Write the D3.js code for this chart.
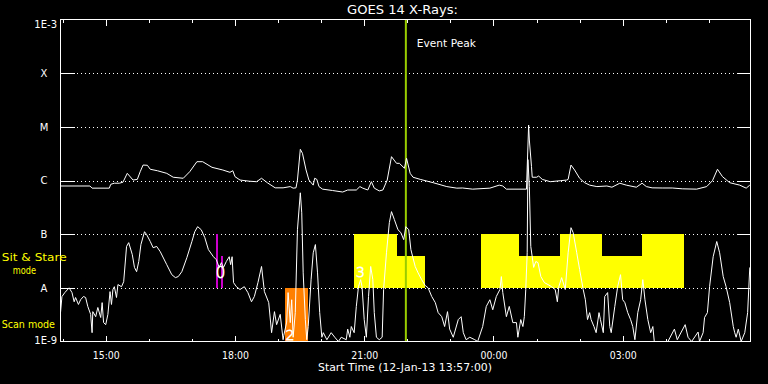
<!DOCTYPE html>
<html><head><meta charset="utf-8">
<script src="https://cdn.jsdelivr.net/npm/d3@7"></script>
<style>html,body{margin:0;padding:0;background:#000;overflow:hidden}svg{display:block}</style>
</head><body><svg id="c" width="768" height="384"></svg>
<script>
// ---------------- data ----------------
const startTime = new Date(2013, 0, 12, 13, 57);
const endTime = new Date(2013, 0, 13, 5, 58);
const titleText = "GOES 14 X-Rays:";
const xAxisTitle = "Start Time (12-Jan-13 13:57:00)";

// GOES long channel (1-8 A): minutes after start, flux W/m^2
const longMinutes = [0,41,44,68,70,75,82,87,93,101,107,111,115,121,125,135,148,157,171,180,190,198,211,226,236,240,243,250,263,273,280,288,299,310,320,324,328,330,334,337,342,346,352,354,357,360,365,379,393,400,412,417,421,428,433,437,444,449,455,461,468,472,479,482,487,491,501,519,538,552,560,574,598,611,616,621,649,652,653,656,657,663,666,671,682,696,705,707,711,716,723,730,737,747,761,768,779,788,802,810,816,824,838,852,866,886,900,908,915,922,932,946,955,960];
const longFlux = [7.9e-7,7.9e-7,7.2e-7,7.2e-7,8.5e-7,8.9e-7,8.9e-7,9.3e-7,1.36e-6,1.02e-6,1.05e-6,1.46e-6,1.94e-6,1.92e-6,1.62e-6,1.52e-6,1.36e-6,1.15e-6,1.10e-6,1.46e-6,2.24e-6,2.24e-6,1.76e-6,1.57e-6,1.42e-6,1.52e-6,1.18e-6,1.02e-6,9.7e-7,9.5e-7,1.10e-6,9.1e-7,7.3e-7,7.3e-7,7.7e-7,7.2e-7,7.3e-7,1.02e-6,3.81e-6,3.21e-6,1.57e-6,1.02e-6,8.2e-7,1.10e-6,1.05e-6,7.7e-7,6.9e-7,6.5e-7,6.1e-7,6.65e-7,6.65e-7,7.7e-7,7.2e-7,6.65e-7,9.5e-7,7.2e-7,6.4e-7,6.65e-7,1.02e-6,2.78e-6,2.09e-6,2.09e-6,1.69e-6,2.59e-6,1.36e-6,1.15e-6,1.05e-6,9.1e-7,7.7e-7,7.2e-7,7.25e-7,6.9e-7,7.2e-7,8.2e-7,7.9e-7,6.9e-7,6.9e-7,1.08e-5,5.68e-6,1.81e-6,1.15e-6,1.15e-6,1.21e-6,1.05e-6,9.5e-7,9.9e-7,1.02e-6,1.05e-6,1.94e-6,1.57e-6,1.10e-6,9.1e-7,8.2e-7,7.7e-7,7.9e-7,7.5e-7,8.9e-7,8.2e-7,7.5e-7,8.9e-7,7.7e-7,7.3e-7,7.25e-7,7.25e-7,7.0e-7,6.9e-7,7.7e-7,9.9e-7,1.62e-6,1.18e-6,9.1e-7,8.2e-7,7.2e-7,8.2e-7];

// GOES short channel (0.5-4 A)
const shortMinutes = [0,2,6,12,16,19,21,25,28,32,35,38,42,44,45,49,52,56,58,60,63,66,69,71,73,75,78,80,85,88,92,95,100,103,106,109,112,117,120,125,129,134,139,148,155,160,164,169,176,183,187,191,196,201,206,213,217,221,224,227,231,235,237,239,241,245,250,256,261,266,270,275,280,284,290,294,298,301,306,310,311,315,317,320,322,324,327,330,334,336,338,341,343,345,349,352,355,358,361,364,366,371,377,382,387,391,398,400,403,405,409,412,415,418,420,423,426,429,432,435,437,440,444,448,450,454,458,461,465,470,474,478,481,485,488,494,498,503,508,512,517,522,526,531,535,539,542,547,554,558,561,565,570,577,581,588,593,598,602,607,612,614,616,621,625,630,635,637,641,644,646,648,650,651,653,655,659,662,665,669,674,679,684,689,692,694,698,703,707,711,714,719,723,728,731,734,737,739,743,746,750,752,756,758,762,765,767,772,776,780,783,786,790,794,797,800,804,808,811,814,818,822,825,827,836,846,855,859,870,874,879,888,890,895,897,901,904,909,914,918,923,927,932,937,939,941,944,948,953,957,960];
const shortFlux = [3.45e-9,6.86e-9,8.15e-9,1.0e-8,8.15e-9,5.5e-9,6.6e-9,4.9e-9,6.0e-9,6.9e-9,6.6e-9,4.5e-9,3.2e-9,1.46e-9,3.6e-9,2.9e-9,4.3e-9,2.8e-9,5.3e-9,2.25e-9,2.06e-9,3.2e-9,8.5e-9,4.9e-9,9.3e-9,1.05e-8,6.6e-9,1.15e-8,1.05e-8,1.3e-8,5.9e-8,6.95e-8,4.15e-8,2.4e-8,2.0e-8,3.1e-8,6.4e-8,1.11e-7,9.8e-8,7.3e-8,5.6e-8,5.9e-8,4.7e-8,2.7e-8,1.76e-8,1.55e-8,1.62e-8,2.0e-8,3.65e-8,7.3e-8,1.11e-7,1.38e-7,1.21e-7,8.6e-8,5.15e-8,3.8e-8,3.35e-8,2.4e-8,2.95e-8,2.4e-8,3.1e-8,3.8e-8,2.7e-8,3.8e-8,1.25e-8,1.05e-8,9.3e-9,1.05e-8,8.15e-9,5.5e-9,6.9e-9,1.25e-8,2.5e-8,8.5e-9,5.3e-9,1.46e-9,3.6e-9,2.06e-9,3.2e-9,1.08e-9,1.3e-9,2.3e-9,8.15e-9,2.25e-9,6.0e-9,1.2e-9,3.45e-9,1.21e-7,5.9e-7,2.5e-7,1.9e-8,2.56e-9,1.08e-9,1.9e-9,1.42e-8,4.5e-8,6.4e-8,1.9e-8,3.45e-9,1.2e-9,1.46e-9,1.08e-9,1.46e-9,1.2e-9,1.0e-9,1.2e-9,1.08e-9,1.7e-9,1.2e-9,1.9e-9,1.46e-9,4.5e-9,1.05e-8,1.42e-8,1.05e-8,2.56e-9,1.2e-9,6.9e-9,2.5e-8,1.42e-8,3.45e-9,1.2e-9,1.08e-9,1.2e-9,9.3e-9,4.5e-8,1.64e-7,2.63e-7,1.87e-7,1.21e-7,1.07e-7,7.9e-8,1.38e-7,1.21e-7,5.15e-8,2.5e-8,1.9e-8,1.42e-8,1.1e-8,1.0e-8,6.9e-9,5.3e-9,3.45e-9,2.9e-9,1.9e-9,3.6e-9,1.7e-9,1.2e-9,2.56e-9,2.9e-9,1.46e-9,1.08e-9,1.2e-9,1.08e-9,1.0e-9,1.9e-9,4.5e-9,6.0e-9,3.9e-9,6.9e-9,9.3e-9,1.62e-8,8.15e-9,2.9e-9,4.5e-9,2.25e-9,2.25e-9,1.2e-9,2.56e-9,1.9e-9,2.9e-9,9.3e-9,4.5e-8,2.45e-6,7.7e-7,5.9e-8,2.4e-8,3.1e-8,2.95e-8,1.62e-8,1.25e-8,1.15e-8,1.05e-8,9.3e-9,5.5e-9,1.05e-8,1.55e-8,9.3e-9,4.5e-8,1.32e-7,1.07e-7,4.5e-8,2.2e-8,9.3e-9,6.0e-9,2.56e-9,3.45e-9,2.56e-9,1.9e-9,1.46e-9,3.45e-9,2.56e-9,1.46e-9,6.9e-9,8.15e-9,1.9e-9,1.46e-9,4.5e-9,1.05e-8,1.76e-8,6.0e-9,5.3e-9,3.45e-9,2.56e-9,1.9e-9,1.08e-9,3.45e-9,6.0e-9,1.42e-8,6.0e-9,2.56e-9,1.46e-9,1.9e-9,1.0e-9,1.0e-9,1.0e-9,1.7e-9,1.08e-9,2.06e-9,1.2e-9,1.0e-9,1.5e-9,1.0e-9,1.46e-9,2.8e-9,3.45e-9,1.05e-8,3.8e-8,7.3e-8,4.5e-8,1.62e-8,1.05e-8,5.3e-9,1.9e-9,1.46e-9,1.2e-9,1.7e-9,1.0e-9,1.46e-9,3.45e-9,2.4e-8];

// decade ticks and their labels
const yTickValues = [1e-9, 1e-8, 1e-7, 1e-6, 1e-5, 1e-4, 1e-3];
const yTickLabels = ["1E-9", "A", "B", "C", "M", "X", "1E-3"];

// observing-mode blocks
const blockStart = ["17:33","17:40","19:09","20:46","21:45","23:43","00:36","01:33","02:31","03:27"];
const blockEnd   = ["17:36","17:43","19:42","21:45","22:24","00:36","01:33","02:31","03:27","04:25"];
const blockTop   = [1e-7, 4e-8, 1e-8, 1e-7, 4e-8, 1e-7, 4e-8, 1e-7, 4e-8, 1e-7];
const blockBottom= [1e-8, 1e-8, 1e-9, 1e-8, 1e-8, 1e-8, 1e-8, 1e-8, 1e-8, 1e-8];
const blockColor = ["#cc00cc","#cc00cc","#ff8000","#ffff00","#ffff00","#ffff00","#ffff00","#ffff00","#ffff00","#ffff00"];

// event labels
const eventLabelText = ["0", "2", "3"];
const eventLabelTime = ["17:40", "19:09", "20:47"];
const eventLabelFlux = [1.5e-8, 1.08e-9, 1.62e-8];
const eventLabelSize = [15, 14, 14];

const eventPeakTime = "21:58";
const eventPeakText = "Event Peak";

const modeLabels = ["Sit & Stare", "mode", "Scan mode"];

// ---------------- drawing ----------------
const svg = d3.select("#c");
const F = "DejaVu Sans";
svg.append("rect").attr("width", 768).attr("height", 384).attr("fill", "#000");

const L = 60.5, R = 750.5, T = 19.5, B = 341.5;
const x = d3.scaleTime().domain([startTime, endTime]).range([L, R]);
const y = d3.scaleLog().domain([1e-9, 1e-3]).range([B, T]);
const tOf = m => new Date(startTime.getTime() + m * 60000);
const clock = s => { const [h, mi] = s.split(":").map(Number); return new Date(2013, 0, h < 13 ? 13 : 12, h, mi); };

// dotted decade lines
svg.append("g").selectAll("line").data(yTickValues.slice(1, -1)).join("line")
  .attr("x1", L + 14).attr("x2", R - 14)
  .attr("y1", d => Math.round(y(d)) + 0.5).attr("y2", d => Math.round(y(d)) + 0.5)
  .attr("stroke", "#fff").attr("stroke-dasharray", "1,3").attr("stroke-dashoffset", -2)
  .attr("shape-rendering", "crispEdges");

// mode blocks
svg.append("g").selectAll("rect").data(blockStart).join("rect")
  .attr("x", (d, i) => x(clock(d)))
  .attr("width", (d, i) => x(clock(blockEnd[i])) - x(clock(d)))
  .attr("y", (d, i) => y(blockTop[i]))
  .attr("height", (d, i) => y(blockBottom[i]) - y(blockTop[i]))
  .attr("fill", (d, i) => blockColor[i])
  .attr("shape-rendering", "crispEdges");

// event labels
svg.append("g").selectAll("text").data(eventLabelText).join("text")
  .attr("x", (d, i) => x(clock(eventLabelTime[i])) + (i === 0 ? 0 : 1))
  .attr("y", (d, i) => y(eventLabelFlux[i]))
  .attr("text-anchor", (d, i) => i === 0 ? "middle" : "start")
  .attr("font-family", F).attr("font-weight", 300).attr("font-size", (d, i) => eventLabelSize[i])
  .attr("fill", "none").attr("stroke", "#fff").attr("stroke-width", 0.8).text(d => d);

// event peak line
svg.append("line")
  .attr("x1", x(clock(eventPeakTime))).attr("x2", x(clock(eventPeakTime)))
  .attr("y1", T).attr("y2", B)
  .attr("stroke", "#99cc00").attr("stroke-width", 2);
svg.append("text").attr("x", x(clock(eventPeakTime)) + 11).attr("y", 46.5)
  .attr("font-family", F).attr("font-size", 10.5).attr("fill", "#fff")
  .attr("textLength", 59).attr("lengthAdjust", "spacingAndGlyphs").text(eventPeakText);

// curves
svg.append("clipPath").attr("id", "pc").append("rect")
  .attr("x", L).attr("y", T).attr("width", R - L).attr("height", B - T);
const line = d3.line().x(d => x(tOf(d[0]))).y(d => y(d[1]));
const curves = svg.append("g").attr("clip-path", "url(#pc)");
curves.append("path").datum(longMinutes.map((m, i) => [m, longFlux[i]]))
  .attr("d", line).attr("fill", "none").attr("stroke", "#fff").attr("stroke-width", 1);
curves.append("path").datum(shortMinutes.map((m, i) => [m, shortFlux[i]]))
  .attr("d", line).attr("fill", "none").attr("stroke", "#fff").attr("stroke-width", 1);

// frame
svg.append("rect").attr("x", L).attr("y", T).attr("width", R - L).attr("height", B - T)
  .attr("fill", "none").attr("stroke", "#fff").attr("shape-rendering", "crispEdges");

// y ticks (both sides)
const yt = svg.append("g").attr("stroke", "#fff").attr("shape-rendering", "crispEdges");
yTickValues.slice(1, -1).forEach(v => {
  const yy = Math.round(y(v)) + 0.5;
  yt.append("line").attr("x1", L).attr("x2", L + 14).attr("y1", yy).attr("y2", yy);
  yt.append("line").attr("x1", R - 14).attr("x2", R).attr("y1", yy).attr("y2", yy);
});

// y labels
svg.append("g").selectAll("text").data(yTickLabels).join("text")
  .attr("x", (d, i) => (i === 0 || i === yTickLabels.length - 1) ? 57 : 44)
  .attr("y", (d, i) => i === yTickLabels.length - 1 ? y(yTickValues[i]) + 8 : y(yTickValues[i]) + (i === 0 ? 2 : 3.7))
  .attr("text-anchor", (d, i) => (i === 0 || i === yTickLabels.length - 1) ? "end" : "middle")
  .attr("font-family", F).attr("font-size", 10).attr("fill", "#fff")
  .text(d => d);

// x axes: major + minor ticks, top and bottom
const major = d3.timeHour.every(3), minor = d3.timeHour.every(1);
function styleAxis(g) {
  g.select(".domain").remove();
  g.selectAll(".tick line").attr("stroke", "#fff").attr("shape-rendering", "crispEdges");
  g.selectAll("text").attr("fill", "#fff").attr("font-family", F).attr("font-size", 10);
}
svg.append("g").attr("transform", `translate(0,${B})`)
  .call(d3.axisBottom(x).ticks(minor).tickSize(-3).tickFormat("")).call(styleAxis);
svg.append("g").attr("transform", `translate(0,${T})`)
  .call(d3.axisTop(x).ticks(minor).tickSize(-3).tickFormat("")).call(styleAxis);
svg.append("g").attr("transform", `translate(0,${T})`)
  .call(d3.axisTop(x).ticks(major).tickSize(-6).tickFormat("")).call(styleAxis);
const bx = svg.append("g").attr("transform", `translate(0,${B})`)
  .call(d3.axisBottom(x).ticks(major).tickSize(-6).tickPadding(10.5).tickFormat(d3.timeFormat("%H:%M")))
  .call(styleAxis);
bx.selectAll("text").attr("textLength", 27).attr("lengthAdjust", "spacingAndGlyphs");

// titles
svg.append("text").attr("x", 347).attr("y", 13.5)
  .attr("font-family", F).attr("font-size", 11.5).attr("fill", "#fff")
  .attr("textLength", 111).attr("lengthAdjust", "spacingAndGlyphs").text(titleText);
svg.append("text").attr("x", 318).attr("y", 371)
  .attr("font-family", F).attr("font-size", 10.5).attr("fill", "#fff")
  .attr("textLength", 174).attr("lengthAdjust", "spacingAndGlyphs").text(xAxisTitle);

// mode labels
const modeX = [1.7, 12.7, 1.7], modeY = [261, 274, 327.5], modeW = [65, 23.3, 53.3];
svg.append("g").selectAll("text").data(modeLabels).join("text")
  .attr("x", (d, i) => modeX[i]).attr("y", (d, i) => modeY[i])
  .attr("font-family", F).attr("font-size", 10.5).attr("fill", "#ffff00")
  .attr("textLength", (d, i) => modeW[i]).attr("lengthAdjust", "spacingAndGlyphs")
  .text(d => d);
</script></body></html>
